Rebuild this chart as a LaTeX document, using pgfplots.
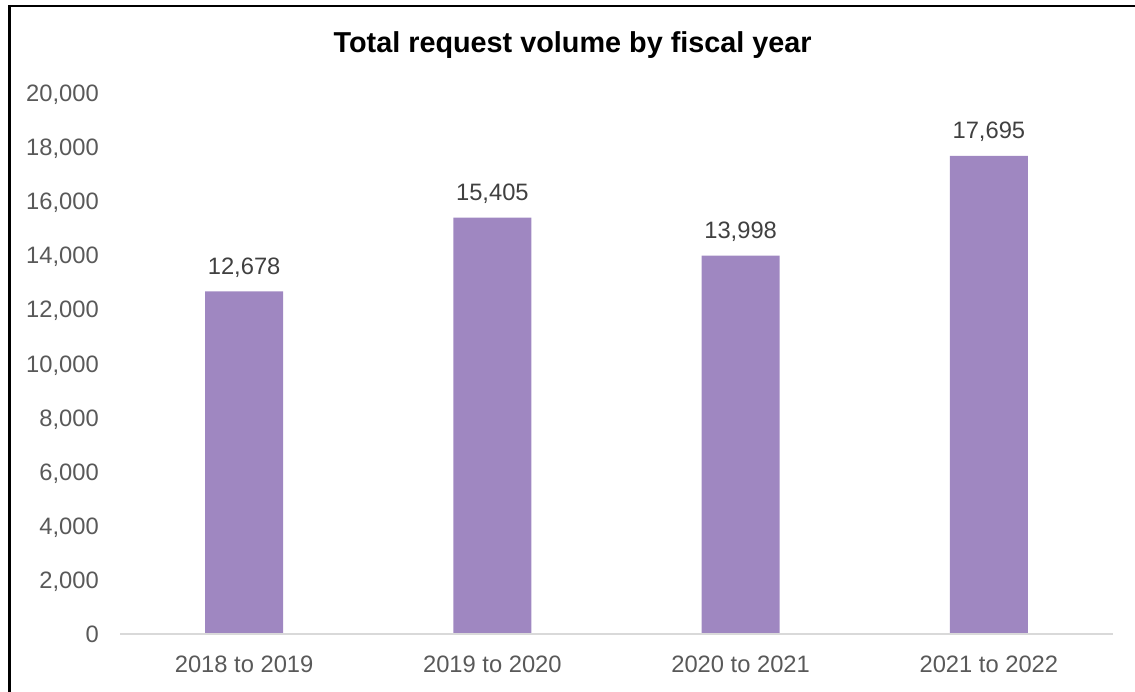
\documentclass[border=0pt]{standalone}
\usepackage{pgfplots}
\pgfplotsset{compat=1.18}
\usepackage{fontspec}
\setmainfont{Liberation Sans}
\definecolor{barcol}{HTML}{9F87C1}
\definecolor{tickcol}{HTML}{595959}
\definecolor{labcol}{HTML}{404040}
\definecolor{axcol}{HTML}{D9D9D9}
\begin{document}
\begin{tikzpicture}
\useasboundingbox (0,0) rectangle (851.25bp,519bp);
\begin{axis}[
  at={(90bp,43.5bp)}, anchor=south west,
  scale only axis,
  width=744.75bp, height=405.375bp,
  ymin=0, ymax=20000,
  xmin=-0.5, xmax=3.5,
  ytick={0,2000,...,20000},
  xtick={0,1,2,3},
  xticklabels={2018 to 2019,2019 to 2020,2020 to 2021,2021 to 2022},
  major tick length=0pt,
  axis line style={draw=none},
  axis x line*=bottom,
  axis y line*=left,
  scaled y ticks=false,
  /pgf/number format/assume math mode=true,
  /pgf/number format/1000 sep={,},
  yticklabel style={font=\fontsize{17.8bp}{21bp}\selectfont, text=tickcol, inner sep=0pt, anchor=east, xshift=-15.75bp, text depth=0pt},
  xticklabel style={font=\fontsize{17.8bp}{21bp}\selectfont, text=tickcol, inner sep=0pt, anchor=north, yshift=-16bp},
  clip=false,
]
\addplot[ybar, bar width=58.5bp, fill=barcol, draw=none,
  nodes near coords,
  nodes near coords style={font=\fontsize{17.8bp}{21bp}\selectfont, text=labcol, inner sep=0pt, anchor=south, text depth=0pt, yshift=12.5bp,
    /pgf/number format/1000 sep={,}, /pgf/number format/assume math mode=true},
] coordinates {(0,12678) (1,15405) (2,13998) (3,17695)};
\draw[axcol, line width=1bp] (axis cs:-0.5,0) -- (axis cs:3.5,0);
\end{axis}
\node[anchor=base, inner sep=0pt, font=\fontsize{21.6bp}{26bp}\selectfont\bfseries] at (429.5bp,479.5bp) {Total request volume by fiscal year};
\draw[black, line width=1.9bp] (7.125bp,0) -- (7.125bp,514.35bp) -- (851.25bp,514.35bp);
\end{tikzpicture}
\end{document}
